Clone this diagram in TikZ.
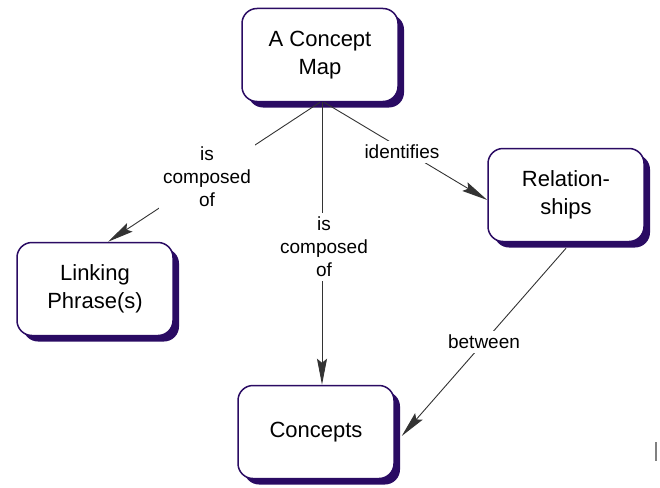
\documentclass[tikz,border=0pt]{standalone}
\usepackage{fontspec}
\setmainfont{Liberation Sans}
\usetikzlibrary{arrows.meta,shadows}
\definecolor{boxline}{HTML}{2A0B63}
\definecolor{boxshadow}{HTML}{2A0B63}
\definecolor{linkgray}{HTML}{333333}
\begin{document}
\begin{tikzpicture}[x=1pt,y=-1pt,
  concept/.style={draw=boxline, line width=1.5pt, fill=white, rounded corners=15pt,
    minimum width=156pt, minimum height=93pt, align=center,
    font=\fontsize{22}{28}\selectfont,
    drop shadow={shadow xshift=6pt, shadow yshift=-6pt, fill=boxshadow, opacity=1}},
  linklabel/.style={fill=white, align=center, inner sep=4pt,
    font=\fontsize{19}{23}\selectfont},
  conn/.style={draw=linkgray, line width=0.9pt,
    -{Stealth[length=26pt,width=10pt,inset=4pt,fill=linkgray]}}]
\useasboundingbox (0,0) rectangle (660,487);
\node[concept] (cm)  at (320,55)  {A Concept\\Map};
\node[concept] (lp)  at (95,289)  {Linking\\Phrase(s)};
\node[concept] (rel) at (566,195) {Relation-\\ships};
\node[concept] (con) at (316,432) {Concepts};
\draw[conn] (cm.south) -- ([xshift=13pt]lp.north);
\draw[conn] ([xshift=2pt]cm.south) -- ([xshift=2pt]cm.south |- con.north);
\draw[conn] ([xshift=4pt]cm.south) -- ([yshift=-5pt]rel.west);
\draw[conn] ([yshift=-6pt]rel.south) -- ([xshift=7pt,yshift=-4pt]con.east);
\node[linklabel] (l1) at (207,177) {is\\composed\\of};
\node[linklabel] (l2) at (324,247) {is\\composed\\of};
\node[linklabel] (l3) at (402,152) {identifies};
\node[linklabel] (l4) at (484,342) {between};
\coordinate (g1) at (656,442);
\coordinate (g2) at (656,461);
\draw[gray, line width=1.2pt] (g1) -- (g2);
\end{tikzpicture}
\end{document}
